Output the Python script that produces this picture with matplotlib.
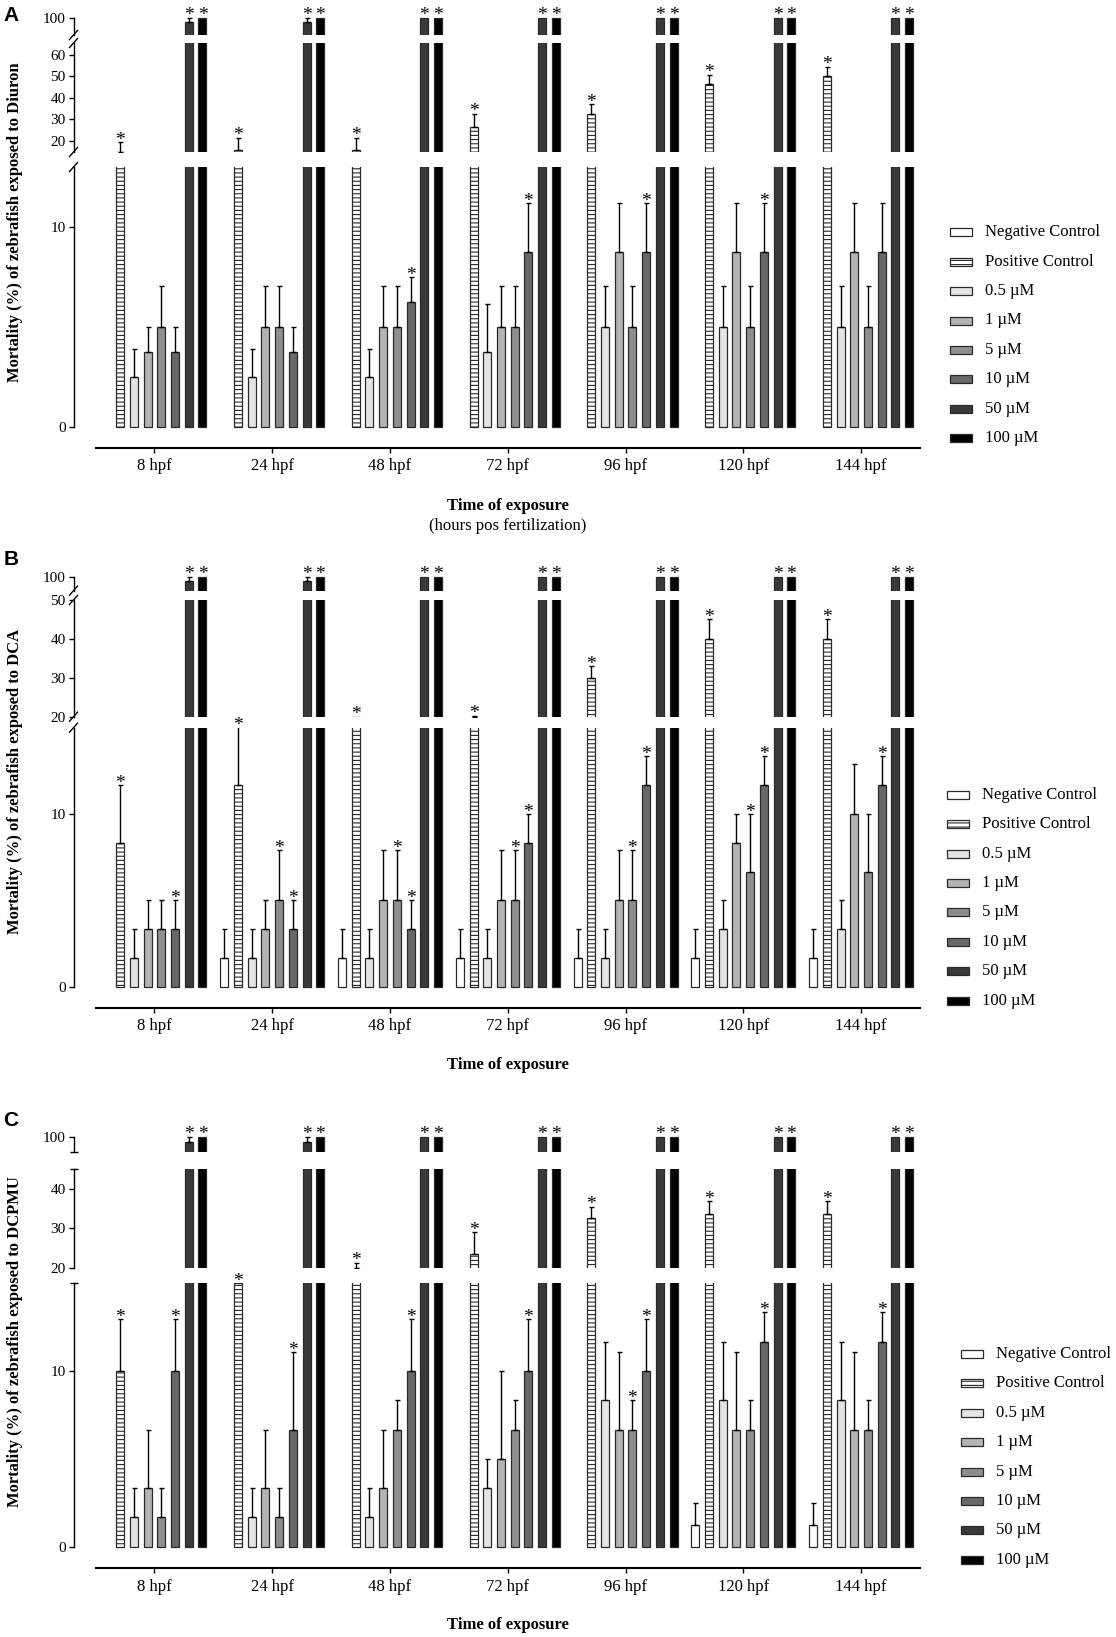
import numpy as np
import matplotlib
matplotlib.use("Agg")
import matplotlib.pyplot as plt
from matplotlib.lines import Line2D
from matplotlib.patches import Rectangle

W, H = 1116, 1637
plt.rcParams["font.family"] = ["Liberation Serif", "DejaVu Serif"]
plt.rcParams["hatch.linewidth"] = 0.8

times = ["8 hpf", "24 hpf", "48 hpf", "72 hpf", "96 hpf", "120 hpf", "144 hpf"]
treatments = ["Negative Control", "Positive Control", "0.5 µM", "1 µM",
              "5 µM", "10 µM", "50 µM", "100 µM"]

# rows follow `treatments`, columns follow `times`
diuron_mean = [
    [0, 0, 0, 0, 0, 0, 0],
    [14.5, 15.6, 15.6, 26.2, 32.5, 46.3, 50.0],
    [2.5, 2.5, 2.5, 3.75, 5, 5, 5],
    [3.75, 5, 5, 5, 8.75, 8.75, 8.75],
    [5, 5, 5, 5, 5, 5, 5],
    [3.75, 3.75, 6.25, 8.75, 8.75, 8.75, 8.75],
    [98.75, 98.75, 100, 100, 100, 100, 100],
    [100, 100, 100, 100, 100, 100, 100],
]
diuron_err = [
    [0, 0, 0, 0, 0, 0, 0],
    [4.8, 5.8, 5.8, 6.4, 4.5, 4.5, 4.6],
    [1.4, 1.4, 1.4, 2.4, 2.05, 2.05, 2.05],
    [1.25, 2.05, 2.05, 2.05, 2.45, 2.45, 2.45],
    [2.05, 2.05, 2.05, 2.05, 2.05, 2.05, 2.05],
    [1.25, 1.25, 1.25, 2.45, 2.45, 2.45, 2.45],
    [1.25, 1.25, 0, 0, 0, 0, 0],
    [0, 0, 0, 0, 0, 0, 0],
]
diuron_sig = [
    [0, 0, 0, 0, 0, 0, 0],
    [1, 1, 1, 1, 1, 1, 1],
    [0, 0, 0, 0, 0, 0, 0],
    [0, 0, 0, 0, 0, 0, 0],
    [0, 0, 0, 0, 0, 0, 0],
    [0, 0, 1, 1, 1, 1, 0],
    [1, 1, 1, 1, 1, 1, 1],
    [1, 1, 1, 1, 1, 1, 1],
]

dca_mean = [
    [0, 1.67, 1.67, 1.67, 1.67, 1.67, 1.67],
    [8.33, 11.67, 20, 20, 30, 40, 40],
    [1.67, 1.67, 1.67, 1.67, 1.67, 3.33, 3.33],
    [3.33, 3.33, 5, 5, 5, 8.33, 10],
    [3.33, 5, 5, 5, 5, 6.67, 6.67],
    [3.33, 3.33, 3.33, 8.33, 11.67, 11.67, 11.67],
    [98.75, 98.75, 100, 100, 100, 100, 100],
    [100, 100, 100, 100, 100, 100, 100],
]
dca_err = [
    [0, 1.67, 1.67, 1.67, 1.67, 1.67, 1.67],
    [3.35, 3.4, 0, 0.2, 3, 5, 5],
    [1.67, 1.67, 1.67, 1.67, 1.67, 1.67, 1.67],
    [1.67, 1.67, 2.9, 2.9, 2.9, 1.67, 2.9],
    [1.67, 2.9, 2.9, 2.9, 2.9, 3.33, 3.33],
    [1.67, 1.67, 1.67, 1.67, 1.67, 1.67, 1.67],
    [1.25, 1.25, 0, 0, 0, 0, 0],
    [0, 0, 0, 0, 0, 0, 0],
]
dca_sig = [
    [0, 0, 0, 0, 0, 0, 0],
    [1, 1, 1, 1, 1, 1, 1],
    [0, 0, 0, 0, 0, 0, 0],
    [0, 0, 0, 0, 0, 0, 0],
    [0, 1, 1, 1, 1, 1, 0],
    [1, 1, 1, 1, 1, 1, 1],
    [1, 1, 1, 1, 1, 1, 1],
    [1, 1, 1, 1, 1, 1, 1],
]

dcpmu_mean = [
    [0, 0, 0, 0, 0, 1.25, 1.25],
    [10, 15, 20, 23.5, 32.5, 33.5, 33.5],
    [1.67, 1.67, 1.67, 3.33, 8.33, 8.33, 8.33],
    [3.33, 3.33, 3.33, 5, 6.67, 6.67, 6.67],
    [1.67, 1.67, 6.67, 6.67, 6.67, 6.67, 6.67],
    [10, 6.67, 10, 10, 10, 11.67, 11.67],
    [98.75, 98.75, 100, 100, 100, 100, 100],
    [100, 100, 100, 100, 100, 100, 100],
]
dcpmu_err = [
    [0, 0, 0, 0, 0, 1.25, 1.25],
    [2.95, 0, 1.2, 5.5, 3, 3.3, 3.3],
    [1.67, 1.67, 1.67, 1.67, 3.33, 3.33, 3.33],
    [3.33, 3.33, 3.33, 5, 4.4, 4.4, 4.4],
    [1.67, 1.67, 1.67, 1.67, 1.67, 1.67, 1.67],
    [2.95, 4.4, 2.95, 2.95, 2.95, 1.67, 1.67],
    [1.25, 1.25, 0, 0, 0, 0, 0],
    [0, 0, 0, 0, 0, 0, 0],
]
dcpmu_sig = [
    [0, 0, 0, 0, 0, 0, 0],
    [1, 1, 1, 1, 1, 1, 1],
    [0, 0, 0, 0, 0, 0, 0],
    [0, 0, 0, 0, 0, 0, 0],
    [0, 0, 0, 0, 1, 0, 0],
    [1, 1, 1, 1, 1, 1, 1],
    [1, 1, 1, 1, 1, 1, 1],
    [1, 1, 1, 1, 1, 1, 1],
]

fills = ["white", "white", "#e4e4e4", "#b4b4b4", "#8e8e8e", "#686868", "#393939", "black"]
hatches = [None, "----", None, None, None, None, None, None]
EDGE = "#2a2a2a"

X_LEFT, AXIS_START, X_RIGHT = 73.5, 95.6, 920.0
PPU = (X_RIGHT - AXIS_START) / 7.0
BAR_STEP = 13.7 / PPU
BAR_W = 8.0 / PPU
PAD_LO, PAD_HI = 0.2, 0.5


def fx(px):
    return px / W


def fy(py):
    return 1 - py / H


def draw_panel(fig, letter, letter_y, means, errs, sigs, segments, ticks,
               axis_py, ylabel, ylabel_y, xlabel_y, legend_y0, legend_x, slashes,
               sub_label=None):
    x = np.arange(len(times))
    offsets = (np.arange(len(treatments)) - 3.5) * BAR_STEP
    xlim_left = -0.5 - (AXIS_START - X_LEFT) / PPU
    axes = []
    n = len(segments)
    for k, (lo, hi, py_lo, py_hi) in enumerate(segments):
        scale = (py_lo - py_hi) / (hi - lo)
        pad_lo = PAD_LO if k == 0 else 0
        pad_hi = PAD_HI if k == n - 1 else 0
        bot = py_lo + pad_lo * scale
        top = py_hi - pad_hi * scale
        ax = fig.add_axes([fx(X_LEFT), fy(bot), fx(X_RIGHT) - fx(X_LEFT), (bot - top) / H])
        ax.set_xlim(xlim_left, 6.5)
        ax.set_ylim(lo - pad_lo, hi + pad_hi)
        ax.patch.set_visible(False)
        for s in ("top", "right"):
            ax.spines[s].set_visible(False)
        ax.spines["left"].set_bounds(lo, hi)
        ax.spines["left"].set_linewidth(1.0)
        ax.set_yticks(ticks[k])
        ax.tick_params(axis="y", direction="out", length=3.6, width=1.0,
                       labelsize=11, pad=2)
        if not slashes:
            ends = []
            if k > 0:
                ends.append(lo)
            if k < n - 1:
                ends.append(hi)
            ax.set_yticks(ends, minor=True)
            ax.tick_params(axis="y", which="minor", direction="inout",
                           length=6, width=1.0)
        if k == 0:
            ax.spines["bottom"].set_bounds(-0.5, 6.5)
            ax.spines["bottom"].set_linewidth(1.5)
            ax.spines["bottom"].set_position(("outward", (axis_py - bot) * 0.72))
            ax.set_xticks(x)
            ax.set_xticklabels(times)
            ax.tick_params(axis="x", direction="out", length=3.6, width=1.0,
                           labelsize=12, pad=4)
        else:
            ax.spines["bottom"].set_visible(False)
            ax.xaxis.set_visible(False)

        for i in range(len(treatments)):
            m = np.array(means[i], dtype=float)
            e = np.array(errs[i], dtype=float)
            xs = x + offsets[i]
            keep = m > 0
            ax.bar(xs[keep], m[keep], width=BAR_W, color=fills[i], edgecolor=EDGE,
                   linewidth=0.9, hatch=hatches[i], zorder=2)
            has_e = e > 0
            if has_e.any():
                ax.errorbar(xs[has_e], m[has_e],
                            yerr=[np.zeros(has_e.sum()), e[has_e]],
                            fmt="none", ecolor="black", elinewidth=1.0,
                            capsize=1.8, capthick=1.0, zorder=3)
        axes.append(ax)

    # significance stars
    for i in range(len(treatments)):
        for j in range(len(times)):
            if not sigs[i][j]:
                continue
            topv = means[i][j] + errs[i][j]
            for k in range(n - 1, -1, -1):
                lo, hi = segments[k][0], segments[k][1]
                if topv >= lo - 1e-9:
                    axes[k].annotate("*", (x[j] + offsets[i], min(topv, hi)),
                                     xytext=(0, -1.8), textcoords="offset points",
                                     ha="center", va="baseline", fontsize=14,
                                     annotation_clip=False)
                    break

    # axis break marks
    if slashes:
        for k in range(n):
            lo, hi, py_lo, py_hi = segments[k]
            ends = []
            if k > 0:
                ends.append(py_lo)
            if k < n - 1:
                ends.append(py_hi)
            for py in ends:
                fig.add_artist(Line2D([fx(X_LEFT - 4), fx(X_LEFT + 4)],
                                      [fy(py + 4.5), fy(py - 4.5)],
                                      color="black", lw=1.0,
                                      transform=fig.transFigure))

    # labels
    fig.text(fx(11), fy(letter_y), letter, fontsize=15, fontweight="bold",
             family=["Liberation Sans", "DejaVu Sans"], ha="center", va="center")
    fig.text(fx(15), fy(ylabel_y), ylabel, rotation=90, fontsize=12,
             fontweight="bold", ha="center", va="center")
    xc = fx((AXIS_START + X_RIGHT) / 2)
    fig.text(xc, fy(xlabel_y), "Time of exposure", fontsize=12,
             fontweight="bold", ha="center", va="center")
    if sub_label:
        fig.text(xc, fy(xlabel_y + 20), sub_label, fontsize=12,
                 ha="center", va="center")

    # legend
    for i, name in enumerate(treatments):
        yc = legend_y0 + i * 29.4
        rect = Rectangle((fx(legend_x), fy(yc + 4)), 22 / W, 8 / H,
                         facecolor=fills[i], edgecolor=EDGE, linewidth=0.9,
                         hatch=hatches[i], transform=fig.transFigure)
        fig.add_artist(rect)
        fig.text(fx(legend_x + 35), fy(yc), name, fontsize=12, va="center")
    return axes


fig = plt.figure(figsize=(W / 100, H / 100), dpi=100, facecolor="white")

draw_panel(fig, "A", 15.5, diuron_mean, diuron_err, diuron_sig,
           segments=[(0, 13, 427, 167), (14.7, 65.6, 152, 43), (94.7, 100, 35, 18)],
           ticks=[[0, 10], [20, 30, 40, 50, 60], [100]],
           axis_py=447.7, ylabel="Mortality (%) of zebrafish exposed to Diuron",
           ylabel_y=222, xlabel_y=506, legend_y0=232.3, legend_x=950,
           slashes=True, sub_label="(hours pos fertilization)")

draw_panel(fig, "B", 559.5, dca_mean, dca_err, dca_sig,
           segments=[(0, 15, 986.7, 727.7), (20, 50, 716.7, 600), (95.6, 100, 590.7, 576.7)],
           ticks=[[0, 10], [20, 30, 40, 50], [100]],
           axis_py=1007.7, ylabel="Mortality (%) of zebrafish exposed to DCA",
           ylabel_y=781.7, xlabel_y=1065, legend_y0=794.9, legend_x=947,
           slashes=True)

draw_panel(fig, "C", 1120.5, dcpmu_mean, dcpmu_err, dcpmu_sig,
           segments=[(0, 15, 1546.7, 1283.3), (20, 45, 1267.7, 1169), (96, 100, 1152.3, 1136.7)],
           ticks=[[0, 10], [20, 30, 40], [100]],
           axis_py=1568, ylabel="Mortality (%) of zebrafish exposed to DCPMU",
           ylabel_y=1341.7, xlabel_y=1625, legend_y0=1353.9, legend_x=961,
           slashes=False)

fig.savefig("out.png", dpi=100, facecolor="white")
